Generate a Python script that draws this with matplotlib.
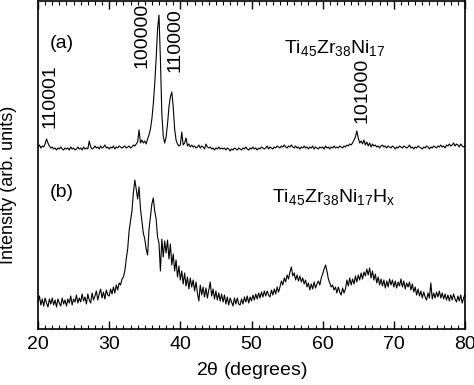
import numpy as np
import matplotlib
matplotlib.use("Agg")
import matplotlib.pyplot as plt
from matplotlib.ticker import MultipleLocator

plt.rcParams["font.family"] = ["Liberation Sans", "DejaVu Sans"]
plt.rcParams["mathtext.fontset"] = "custom"
plt.rcParams["mathtext.rm"] = "Liberation Sans"
plt.rcParams["mathtext.it"] = "Liberation Sans"

# 2-theta grid, 0.2 degree steps from 20 to 80
two_theta = np.round(np.arange(20.0, 80.001, 0.2), 1)

# (a) Ti45Zr38Ni17, intensity (arb. units)
alloy = [
    182, 184, 181, 183, 182, 185, 190, 186, 183, 181,
    182, 180, 181, 179, 181, 180, 182, 180, 179, 181,
    180, 181, 179, 182, 180, 181, 179, 180, 182, 180,
    181, 179, 182, 180, 181, 180, 188, 182, 180, 181,
    183, 181, 182, 180, 183, 181, 182, 184, 181, 182,
    180, 182, 181, 183, 180, 182, 181, 183, 182, 181,
    182, 183, 181, 182, 183, 181, 182, 184, 183, 185,
    187, 199, 186, 189, 186, 188, 185, 190, 194, 200,
    210, 225, 245, 270, 300, 314, 270, 215, 193, 186,
    192, 205, 222, 232, 237, 222, 200, 189, 185, 183,
    184, 197, 184, 186, 191, 183, 185, 182, 184, 182,
    183, 181, 182, 184, 181, 183, 182, 180, 185, 182,
    181, 182, 180, 181, 179, 181, 180, 182, 180, 181,
    180, 181, 179, 181, 180, 178, 180, 179, 181, 180,
    179, 181, 180, 179, 181, 180, 182, 180, 179, 181,
    180, 182, 180, 181, 179, 181, 180, 182, 181, 180,
    181, 183, 180, 182, 181, 180, 182, 181, 183, 182,
    181, 183, 182, 184, 182, 181, 183, 182, 184, 182,
    181, 183, 181, 182, 180, 182, 181, 183, 181, 182,
    180, 182, 181, 183, 180, 182, 181, 180, 182, 181,
    182, 180, 183, 181, 182, 180, 182, 181, 183, 181,
    182, 181, 183, 182, 181, 183, 182, 184, 183, 185,
    184, 186, 189, 192, 198, 191, 186, 188, 185, 189,
    184, 187, 183, 186, 182, 185, 183, 184, 182, 183,
    181, 183, 184, 182, 183, 181, 183, 182, 181, 183,
    182, 180, 182, 181, 183, 182, 181, 183, 182, 181,
    182, 184, 181, 182, 180, 182, 181, 183, 182, 181,
    180, 182, 181, 183, 182, 180, 182, 181, 183, 182,
    181, 183, 182, 184, 182, 183, 181, 184, 183, 185,
    183, 184, 186, 183, 185, 184, 182, 185, 183, 182,
    183,
]

# (b) Ti45Zr38Ni17Hx hydride
hydride = [
    27, 33, 24, 30, 23, 31, 26, 22, 30, 25,
    31, 24, 29, 22, 30, 26, 23, 31, 25, 29,
    23, 30, 26, 33, 24, 30, 27, 34, 26, 31,
    27, 35, 28, 32, 25, 35, 29, 26, 36, 29,
    33, 38, 29, 35, 40, 31, 37, 30, 39, 34,
    33, 40, 35, 42, 36, 44, 39, 46, 44, 50,
    52, 58, 70, 80, 98, 108, 118, 136, 149, 140,
    130, 142, 120, 108, 96, 90, 80, 74, 100, 112,
    125, 131, 118, 110, 92, 86, 58, 90, 72, 88,
    76, 89, 70, 85, 64, 75, 58, 69, 52, 63,
    49, 58, 45, 56, 43, 52, 40, 51, 42, 49,
    38, 47, 36, 28, 44, 34, 42, 32, 41, 31,
    39, 47, 33, 40, 30, 38, 29, 36, 28, 35,
    27, 34, 25, 32, 24, 31, 27, 23, 31, 25,
    31, 25, 24, 30, 25, 32, 27, 33, 26, 32,
    28, 34, 29, 35, 30, 36, 31, 37, 32, 38,
    33, 38, 34, 32, 39, 34, 40, 35, 42, 37,
    42, 48, 44, 51, 47, 54, 50, 57, 62, 53,
    56, 49, 54, 48, 53, 47, 51, 45, 49, 42,
    46, 39, 45, 40, 47, 41, 45, 48, 44, 51,
    55, 60, 64, 58, 50, 46, 42, 44, 39, 42,
    36, 42, 37, 34, 41, 36, 40, 49, 43, 51,
    44, 50, 45, 53, 47, 54, 49, 56, 50, 57,
    53, 60, 54, 61, 51, 58, 49, 55, 46, 52,
    44, 50, 43, 49, 41, 48, 42, 50, 44, 49,
    42, 48, 41, 47, 43, 50, 42, 48, 40, 46,
    42, 47, 39, 45, 37, 42, 34, 40, 33, 38,
    31, 37, 32, 29, 36, 31, 46, 30, 36, 31,
    37, 32, 38, 31, 36, 30, 35, 29, 34, 28,
    34, 29, 35, 30, 27, 33, 28, 34, 26, 31,
    35,
]

# reflection labels and where they sit
peak_labels = ["110001", "100000", "110000", "101000"]
peak_pos = [21.7, 34.6, 39.2, 65.5]
peak_lab_y = [201, 261, 257, 206]

fig = plt.figure(figsize=(4.74, 3.85), dpi=100)
ax = fig.add_axes([38 / 474, 1 - 329 / 385, 427 / 474, 328 / 385])

ax.plot(two_theta, alloy, color="black", lw=0.8)
ax.plot(two_theta, hydride, color="black", lw=0.8)

ax.set_xlim(20, 80)
ax.set_ylim(0, 328)
ax.set_yticks([])
ax.xaxis.set_major_locator(MultipleLocator(10))
ax.xaxis.set_minor_locator(MultipleLocator(1))
ax.tick_params(axis="x", which="both", direction="in", top=True, labelsize=14, pad=5)
ax.tick_params(axis="x", which="major", length=6, width=1)
ax.tick_params(axis="x", which="minor", length=3, width=0.8)
for s in ax.spines.values():
    s.set_linewidth(1.2)

ax.set_xlabel(r"2$\theta$ (degrees)", fontsize=14, labelpad=5)
fig.text(9 / 474, 1 - 185 / 385, "Intensity (arb. units)", rotation=90,
         ha="center", va="center", fontsize=13)

ax.text(23.3, 286, "(a)", fontsize=14, ha="center", va="center")
ax.text(23.3, 136, "(b)", fontsize=14, ha="center", va="center")
ax.text(61.7, 281, r"Ti$_{45}$Zr$_{38}$Ni$_{17}$", fontsize=14, ha="center", va="center")
ax.text(61.5, 132, r"Ti$_{45}$Zr$_{38}$Ni$_{17}$H$_{x}$", fontsize=14, ha="center", va="center")

for lab, xp, yp in zip(peak_labels, peak_pos, peak_lab_y):
    ax.text(xp, yp, lab, rotation=90, ha="center", va="bottom", fontsize=14)

fig.savefig("out.png", dpi=100)
